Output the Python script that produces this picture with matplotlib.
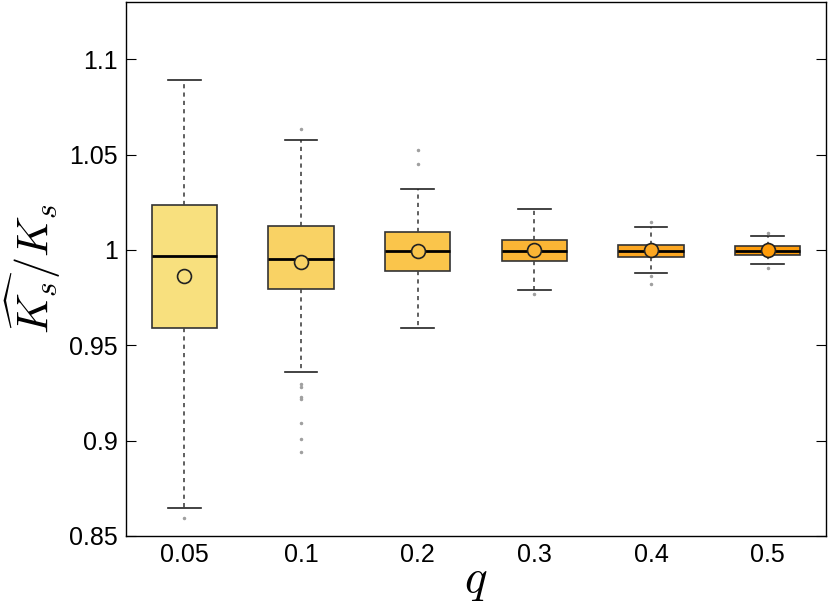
import matplotlib
matplotlib.use("Agg")
import matplotlib.pyplot as plt

# valeurs
q_labels = ["0.05", "0.1", "0.2", "0.3", "0.4", "0.5"]
medianes = [0.9968, 0.9953, 0.9996, 0.9996, 0.9996, 0.9996]
moyennes = [0.9863, 0.9939, 0.9996, 0.9997, 0.9997, 0.9998]
q1 = [0.9593, 0.9793, 0.9891, 0.9942, 0.9961, 0.9974]
q3 = [1.0233, 1.0125, 1.0093, 1.0053, 1.0028, 1.0018]
moustache_bas = [0.8649, 0.9360, 0.9591, 0.9788, 0.9879, 0.9925]
moustache_haut = [1.0889, 1.0575, 1.0319, 1.0214, 1.0119, 1.0075]
aberrants = [
    [0.8596],
    [1.0632, 0.9295, 0.9280, 0.9228, 0.9220, 0.9093, 0.9009, 0.8939],
    [1.0526, 1.0451],
    [0.9767],
    [1.0149, 0.9863, 0.9819],
    [1.0088, 0.9905],
]
couleurs = ["#F8E07E", "#F9D264", "#FAC54B", "#FBB535", "#FCA722", "#FF9C0A"]

plt.rcParams["mathtext.fontset"] = "cm"
plt.rcParams["font.family"] = ["Liberation Sans", "DejaVu Sans"]

fig = plt.figure(figsize=(8.31, 6.09), dpi=100)
ax = fig.add_axes([0.1516, 0.1199, 0.8424, 0.8768])

stats = []
for i in range(len(q_labels)):
    stats.append({
        "med": medianes[i], "q1": q1[i], "q3": q3[i],
        "whislo": moustache_bas[i], "whishi": moustache_haut[i],
        "fliers": aberrants[i], "mean": moyennes[i],
    })

res = ax.bxp(stats, positions=range(1, 7), widths=0.56, patch_artist=True,
             showmeans=True, showfliers=True,
             boxprops=dict(edgecolor="#333333", linewidth=1.2),
             medianprops=dict(color="black", linewidth=2),
             whiskerprops=dict(color="#444444", linestyle=(0, (2.5, 2.5)), linewidth=1.2),
             capprops=dict(color="#222222", linewidth=1.2),
             capwidths=0.28,
             flierprops=dict(marker="o", markersize=1.5, markerfacecolor="#A0A0A0",
                             markeredgecolor="#A0A0A0"),
             meanprops=dict(marker="o", markersize=10, markeredgecolor="#222222",
                            markeredgewidth=1.2))

for boite, mean, c in zip(res["boxes"], res["means"], couleurs):
    boite.set_facecolor(c)
    mean.set_markerfacecolor(c)

ax.set_xlim(0.5, 6.5)
ax.set_ylim(0.85, 1.13)
ax.set_yticks([0.85, 0.9, 0.95, 1.0, 1.05, 1.1])
ax.set_yticklabels(["0.85", "0.9", "0.95", "1", "1.05", "1.1"])
ax.set_xticks(range(1, 7))
ax.set_xticklabels(q_labels)
ax.tick_params(axis="y", direction="in", length=7, right=True, labelsize=18, pad=6)
ax.tick_params(axis="x", length=0, labelsize=18, pad=5)
for s in ax.spines.values():
    s.set_linewidth(1.0)

ax.set_xlabel("$q$", fontsize=34, labelpad=-6)
ax.set_ylabel(r"$\widehat{K_s}/K_s$", fontsize=32, labelpad=4)

fig.savefig("out.png", dpi=100)
